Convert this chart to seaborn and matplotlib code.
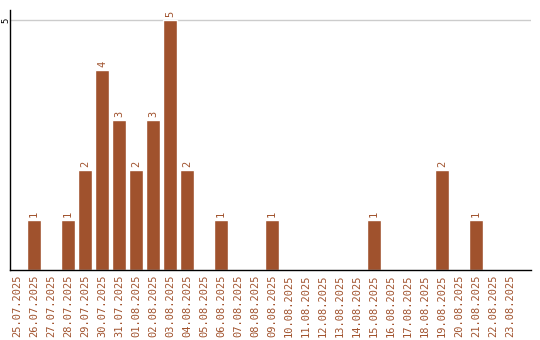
import matplotlib
matplotlib.use("Agg")
import matplotlib.pyplot as plt
import seaborn as sns
import pandas as pd

dates = ["25.07.2025", "26.07.2025", "27.07.2025", "28.07.2025", "29.07.2025",
         "30.07.2025", "31.07.2025", "01.08.2025", "02.08.2025", "03.08.2025",
         "04.08.2025", "05.08.2025", "06.08.2025", "07.08.2025", "08.08.2025",
         "09.08.2025", "10.08.2025", "11.08.2025", "12.08.2025", "13.08.2025",
         "14.08.2025", "15.08.2025", "16.08.2025", "17.08.2025", "18.08.2025",
         "19.08.2025", "20.08.2025", "21.08.2025", "22.08.2025", "23.08.2025"]
counts = [0, 1, 0, 1, 2, 4, 3, 2, 3, 5, 2, 0, 1, 0, 0, 1, 0, 0, 0, 0, 0, 1,
          0, 0, 0, 2, 0, 1, 0, 0]

color = "#A0522D"
df = pd.DataFrame({"date": dates, "count": counts})

sns.set_style("white")
fig = plt.figure(figsize=(5.4, 3.4), dpi=100)
ax = fig.add_axes([10/540, 70/340, 521/540, 260/340])

sns.barplot(data=df, x="date", y="count", color=color, width=0.824, ax=ax,
            saturation=1, order=dates)

ax.set_ylim(0, 5.2)
ax.set_xlim(-0.412, 30.24)
ax.set_yticks([5])
ax.set_yticklabels(["5"], rotation=90, va="center", ha="right", fontsize=6.5,
                   family="DejaVu Sans Mono", color="black")
ax.yaxis.grid(True, color="#cccccc", linewidth=1)
ax.set_axisbelow(True)
ax.tick_params(axis="y", length=0, pad=0)
ax.tick_params(axis="x", length=0, pad=3)
ax.set_xticks(range(len(dates)))
ax.set_xticklabels(dates, rotation=90, fontsize=7.5, color=color,
                   family="DejaVu Sans Mono")
ax.set_xlabel("")
ax.set_ylabel("")

for sp in ["top", "right"]:
    ax.spines[sp].set_visible(False)
for sp in ["left", "bottom"]:
    ax.spines[sp].set_color("black")
    ax.spines[sp].set_linewidth(1)

container = ax.containers[0]
labels = [str(c) if c > 0 else "" for c in counts]
ax.bar_label(container, labels=labels, rotation=90, padding=2, fontsize=7.5,
             color=color, family="DejaVu Sans Mono")

fig.savefig("out.png", dpi=100)
